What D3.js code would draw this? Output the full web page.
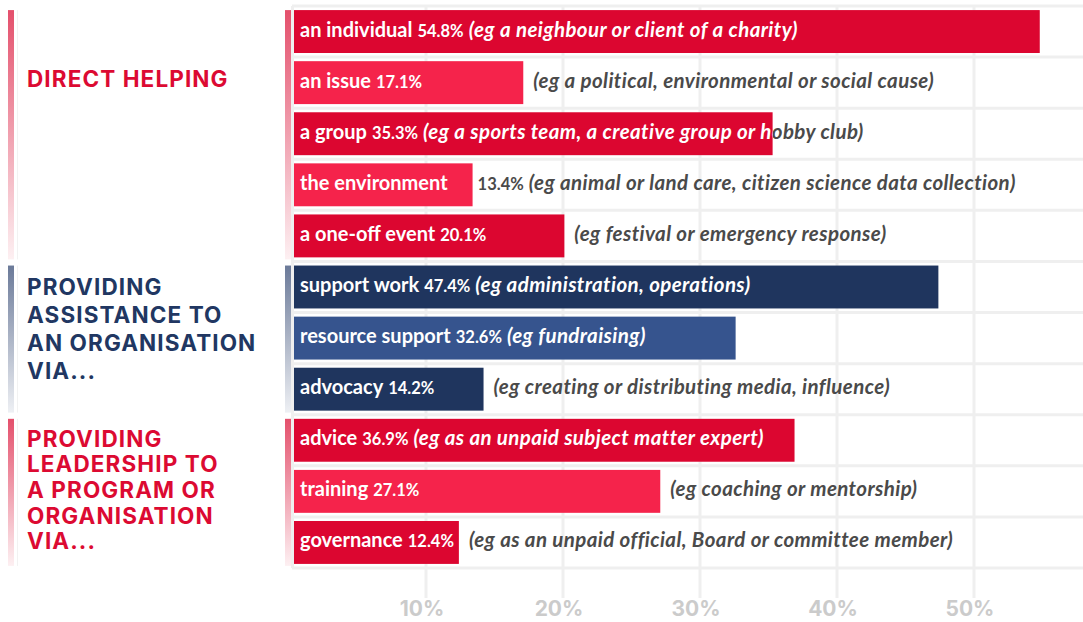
<!DOCTYPE html>
<html>
<head>
<meta charset="utf-8">
<script src="https://cdn.jsdelivr.net/npm/d3@7"></script>
<style>
  body { margin: 0; background: #fff; }
  svg { display: block; }
  .lab { font: 700 20px Lato, sans-serif; }
  .pct { font: 700 16.5px Lato, sans-serif; }
  .note { font: italic 700 20.5px Lato, sans-serif; letter-spacing: 0.4px; }
  .head { font: 700 22.5px Inter, sans-serif; letter-spacing: 1.1px; }
  .tick { font: 700 21px Inter, sans-serif; fill: #cbcbcb; }
</style>
</head>
<body>
<script>
var labels = ["an individual", "an issue", "a group", "the environment", "a one-off event",
              "support work", "resource support", "advocacy",
              "advice", "training", "governance"];
var values = [54.8, 17.1, 35.3, 13.4, 20.1, 47.4, 32.6, 14.2, 36.9, 27.1, 12.4];
var notes = ["(eg a neighbour or client of a charity)",
             "(eg a political, environmental or social cause)",
             "(eg a sports team, a creative group or hobby club)",
             "(eg animal or land care, citizen science data collection)",
             "(eg festival or emergency response)",
             "(eg administration, operations)",
             "(eg fundraising)",
             "(eg creating or distributing media, influence)",
             "(eg as an unpaid subject matter expert)",
             "(eg coaching or mentorship)",
             "(eg as an unpaid official, Board or committee member)"];
var barColors = ["#dc0630", "#f5234b", "#dc0630", "#f5234b", "#dc0630",
                 "#1f355e", "#36548e", "#1f355e",
                 "#dc0630", "#f5234b", "#dc0630"];
var groupNames = [["DIRECT HELPING"],
                  ["PROVIDING", "ASSISTANCE TO", "AN ORGANISATION", "VIA..."],
                  ["PROVIDING", "LEADERSHIP TO", "A PROGRAM OR", "ORGANISATION", "VIA..."]];
var groupSizes = [5, 3, 3];
var groupColors = ["#dc0a32", "#213762", "#dc0a32"];
var groupFade = [["#e4506c", "#fdf0f2"], ["#6b7a99", "#eef0f4"], ["#e4506c", "#fdf0f2"]];
var ticks = [10, 20, 30, 40, 50];

var width = 1083, height = 622;
var barStart = 294, gridLeft = 292;

var svg = d3.select("body").append("svg")
    .attr("width", width)
    .attr("height", height);
var defs = svg.append("defs");

var x = d3.scaleLinear().domain([0, 50]).range([289, 974]);
var y = d3.scaleBand().domain(labels).range([6, 568])
    .paddingInner(0.16).paddingOuter(0.08);
var step = y.step();

/* grid: vertical lines at ticks, horizontal lines between rows */
var grid = svg.append("g").attr("stroke", "#efefef").attr("stroke-width", 3);
grid.selectAll("line.v").data(ticks).join("line")
    .attr("x1", d => x(d)).attr("x2", d => x(d))
    .attr("y1", 6).attr("y2", 598);
grid.selectAll("line.h").data(d3.range(labels.length + 1)).join("line")
    .attr("x1", gridLeft).attr("x2", width)
    .attr("y1", d => 6 + d * step).attr("y2", d => 6 + d * step);
grid.append("line").attr("x1", gridLeft + 0.5).attr("x2", gridLeft + 0.5)
    .attr("y1", 6).attr("y2", 568);

svg.selectAll("text.tick").data(ticks).join("text")
    .attr("class", "tick")
    .attr("x", d => x(d) - 4)
    .attr("y", 616)
    .attr("text-anchor", "middle")
    .text(d => d + "%");

/* rows */
var rows = labels.map((l, i) => ({ label: l, value: values[i], note: notes[i], color: barColors[i] }));

svg.selectAll("g.row").data(rows).join("g")
    .attr("class", "row")
    .attr("transform", d => "translate(0," + y(d.label) + ")")
    .each(function (d, i) {
        var g = d3.select(this);
        var end = x(d.value);
        var bw = y.bandwidth();
        var ty = bw / 2 + 5;
        var parts = [
            { text: d.label, cls: "lab" },
            { text: d.value.toFixed(1) + "%", cls: "pct" },
            { text: d.note, cls: "note" }
        ];
        var under = g.append("g").attr("fill", "#4a4a4a");
        var t = under.selectAll("text").data(parts).join("text")
            .attr("class", p => p.cls).attr("y", ty).text(p => p.text);
        var w = [];
        t.each(function () { w.push(this.getComputedTextLength()); });

        parts[0].x = barStart + 6;
        var pctX = parts[0].x + w[0] + 5;
        if (pctX + w[1] > end - 4) pctX = end + 5;
        parts[1].x = pctX;
        var noteX = pctX + w[1] + 5;
        if (noteX + w[2] > end - 4 && pctX < end && end + 10 + w[2] <= width - 4) noteX = end + 10;
        parts[2].x = noteX;
        t.attr("x", p => p.x);

        g.append("rect")
            .attr("x", barStart).attr("y", 0)
            .attr("width", end - barStart).attr("height", bw)
            .attr("fill", d.color);

        defs.append("clipPath").attr("id", "bar" + i)
            .append("rect")
            .attr("x", barStart).attr("y", 0)
            .attr("width", end - barStart).attr("height", bw);

        g.append("g").attr("fill", "#fff").attr("clip-path", "url(#bar" + i + ")")
            .selectAll("text").data(parts).join("text")
            .attr("class", p => p.cls)
            .attr("x", p => p.x).attr("y", ty)
            .text(p => p.text);
    });

/* group headings and fading accent bars */
var headOffset = [77, 29, 28];
var headLeading = [28, 28.3, 25.6];
var startIdx = 0;
groupNames.forEach(function (lines, gi) {
    var first = labels[startIdx], last = labels[startIdx + groupSizes[gi] - 1];
    var top = y(first), bottom = y(last) + y.bandwidth() + 2;

    var grad = defs.append("linearGradient").attr("id", "fade" + gi)
        .attr("x1", 0).attr("y1", 0).attr("x2", 0).attr("y2", 1);
    grad.append("stop").attr("offset", "0%").attr("stop-color", groupFade[gi][0]);
    grad.append("stop").attr("offset", "100%").attr("stop-color", groupFade[gi][1]);

    [8, 285].forEach(function (ax) {
        svg.append("rect").attr("x", ax).attr("y", top)
            .attr("width", 6).attr("height", bottom - top)
            .attr("fill", "url(#fade" + gi + ")");
    });
    svg.append("line").attr("x1", 17.5).attr("x2", 17.5)
        .attr("y1", top).attr("y2", bottom)
        .attr("stroke", "#f2f2f2").attr("stroke-width", 1);

    svg.append("text").attr("class", "head")
        .attr("fill", groupColors[gi])
        .selectAll("tspan").data(lines).join("tspan")
        .attr("x", 27)
        .attr("y", (l, k) => top + headOffset[gi] + k * headLeading[gi])
        .text(l => l);

    startIdx += groupSizes[gi];
});
</script>
</body>
</html>
